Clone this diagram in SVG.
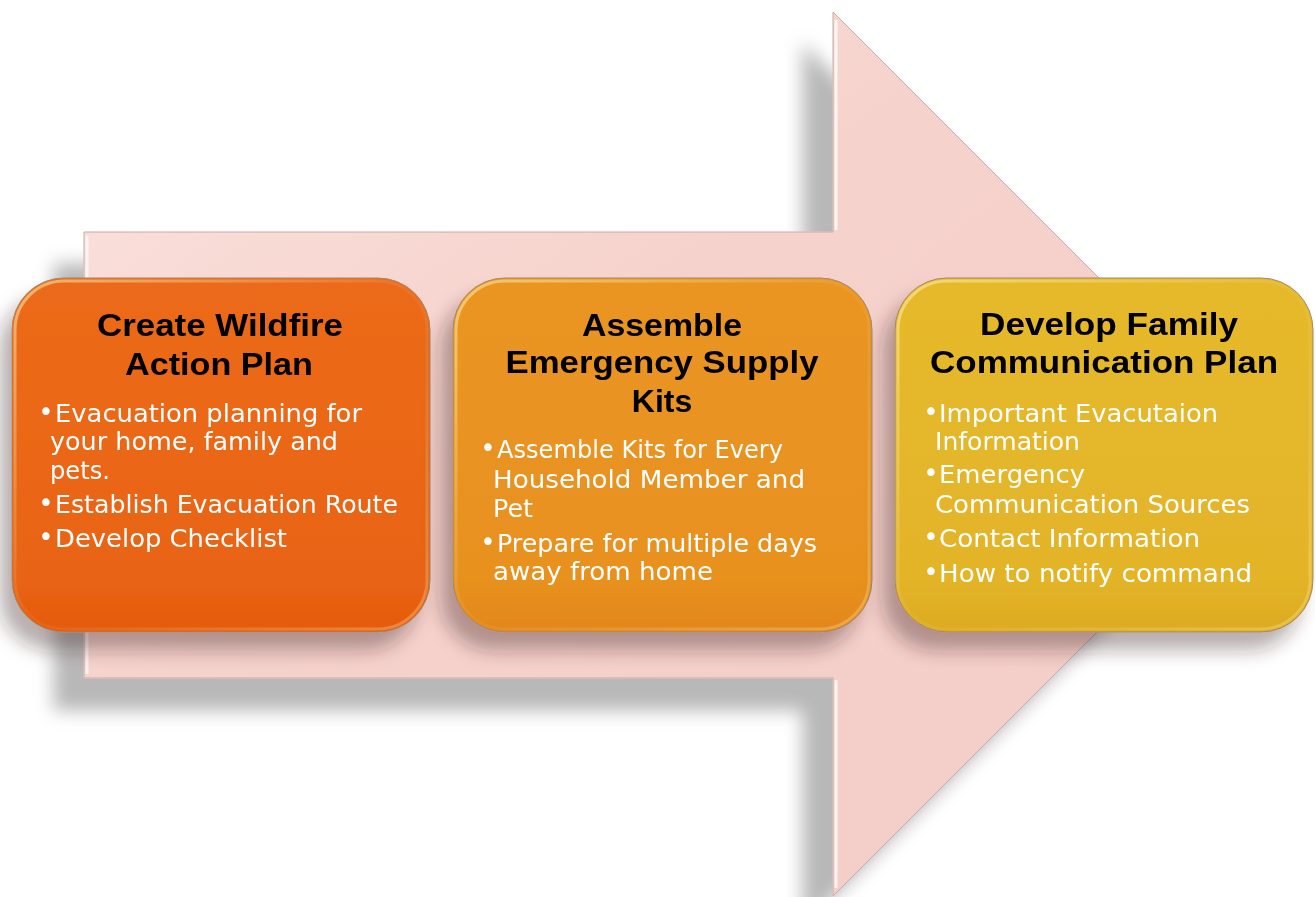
<svg xmlns="http://www.w3.org/2000/svg" width="1315" height="897" viewBox="0 0 1315 897">
  <defs>
    <filter id="arrowShadow" x="-10%" y="-10%" width="120%" height="120%">
      <feGaussianBlur in="SourceAlpha" stdDeviation="9"/>
      <feOffset dx="-30" dy="32" result="b"/>
      <feFlood flood-color="#000" flood-opacity="0.28"/>
      <feComposite in2="b" operator="in" result="s"/>
      <feMerge><feMergeNode in="s"/><feMergeNode in="SourceGraphic"/></feMerge>
    </filter>
    <filter id="boxShadow" x="-10%" y="-10%" width="120%" height="125%">
      <feGaussianBlur in="SourceAlpha" stdDeviation="9"/>
      <feOffset dx="-12" dy="18" result="b"/>
      <feFlood flood-color="#3a2020" flood-opacity="0.35"/>
      <feComposite in2="b" operator="in" result="s"/>
      <feMerge><feMergeNode in="s"/><feMergeNode in="SourceGraphic"/></feMerge>
    </filter>
    <linearGradient id="arrowFill" x1="0" y1="0" x2="1" y2="1">
      <stop offset="0" stop-color="#FBE3DF"/>
      <stop offset="0.4" stop-color="#F6D2CC"/>
      <stop offset="1" stop-color="#F3CCC6"/>
    </linearGradient>
    <linearGradient id="g1" x1="0" y1="0" x2="0" y2="1">
      <stop offset="0" stop-color="#EC6A1A"/>
      <stop offset="0.85" stop-color="#E96414"/>
      <stop offset="1" stop-color="#E55A0C"/>
    </linearGradient>
    <linearGradient id="g2" x1="0" y1="0" x2="0" y2="1">
      <stop offset="0" stop-color="#EA9524"/>
      <stop offset="0.85" stop-color="#E8911F"/>
      <stop offset="1" stop-color="#E3861A"/>
    </linearGradient>
    <linearGradient id="g3" x1="0" y1="0" x2="0" y2="1">
      <stop offset="0" stop-color="#E6B92C"/>
      <stop offset="0.85" stop-color="#E3B428"/>
      <stop offset="1" stop-color="#DDAA20"/>
    </linearGradient>
    <linearGradient id="bevel" x1="0" y1="0" x2="1" y2="1">
      <stop offset="0" stop-color="#fff2b0" stop-opacity="0.55"/>
      <stop offset="0.5" stop-color="#fff2b0" stop-opacity="0.05"/>
      <stop offset="1" stop-color="#fff2b0" stop-opacity="0.3"/>
    </linearGradient>
    <style>
      .box { stroke: #a08870; stroke-width: 1; }
      .hl { fill: none; stroke: url(#bevel); stroke-width: 3; }
      .title { font-family: "Liberation Sans", "DejaVu Sans", sans-serif; font-weight: bold; font-size: 32px; fill: #000; text-anchor: middle; }
      .body { font-family: "DejaVu Sans", "Liberation Sans", sans-serif; font-size: 24px; fill: #ffffff; }
      .bul { font-family: "DejaVu Sans", sans-serif; font-size: 26px; fill: #ffffff; text-anchor: middle; }
    </style>
  </defs>

  <g id="arrow" filter="url(#arrowShadow)">
    <path d="M84,232 H833 V12 L1275,454 L833,896 V678 H84 Z" fill="url(#arrowFill)" stroke="#c9aaa6" stroke-width="1"/>
    <path d="M87,236 V674" stroke="#ffffff" stroke-opacity="0.7" stroke-width="3"/>
    <path d="M836,20 V230 M836,680 V888" stroke="#ffffff" stroke-opacity="0.8" stroke-width="3"/>
  </g>

  <g id="node1" filter="url(#boxShadow)">
    <rect class="box" x="12" y="278" width="418" height="354" rx="52" fill="url(#g1)"/>
    <rect class="hl" x="15" y="281" width="412" height="348" rx="49"/>
    <text class="title" x="220" y="336" textLength="246" lengthAdjust="spacingAndGlyphs">Create Wildfire</text>
    <text class="title" x="219" y="375" textLength="188" lengthAdjust="spacingAndGlyphs">Action Plan</text>
    <text class="bul" x="46" y="421">•</text>
    <text class="body" x="55" y="422" textLength="307" lengthAdjust="spacingAndGlyphs">Evacuation planning for</text>
    <text class="body" x="50" y="450" textLength="288" lengthAdjust="spacingAndGlyphs">your home, family and</text>
    <text class="body" x="50" y="479" textLength="60" lengthAdjust="spacingAndGlyphs">pets.</text>
    <text class="bul" x="46" y="512">•</text>
    <text class="body" x="55" y="513" textLength="343" lengthAdjust="spacingAndGlyphs">Establish Evacuation Route</text>
    <text class="bul" x="46" y="546">•</text>
    <text class="body" x="55" y="547" textLength="232" lengthAdjust="spacingAndGlyphs">Develop Checklist</text>
  </g>

  <g id="node2" filter="url(#boxShadow)">
    <rect class="box" x="453" y="278" width="419" height="354" rx="52" fill="url(#g2)"/>
    <rect class="hl" x="456" y="281" width="413" height="348" rx="49"/>
    <text class="title" x="662" y="336" textLength="160" lengthAdjust="spacingAndGlyphs">Assemble</text>
    <text class="title" x="662" y="373" textLength="313" lengthAdjust="spacingAndGlyphs">Emergency Supply</text>
    <text class="title" x="662" y="412">Kits</text>
    <text class="bul" x="488" y="457">•</text>
    <text class="body" x="497" y="458" textLength="286" lengthAdjust="spacingAndGlyphs">Assemble Kits for Every</text>
    <text class="body" x="493" y="488" textLength="312" lengthAdjust="spacingAndGlyphs">Household Member and</text>
    <text class="body" x="493" y="517" textLength="40" lengthAdjust="spacingAndGlyphs">Pet</text>
    <text class="bul" x="488" y="551">•</text>
    <text class="body" x="497" y="552" textLength="320" lengthAdjust="spacingAndGlyphs">Prepare for multiple days</text>
    <text class="body" x="493" y="580" textLength="220" lengthAdjust="spacingAndGlyphs">away from home</text>
  </g>

  <g id="node3" filter="url(#boxShadow)">
    <rect class="box" x="895" y="278" width="418" height="354" rx="52" fill="url(#g3)"/>
    <rect class="hl" x="898" y="281" width="412" height="348" rx="49"/>
    <text class="title" x="1109" y="335" textLength="258" lengthAdjust="spacingAndGlyphs">Develop Family</text>
    <text class="title" x="1104" y="373" textLength="348" lengthAdjust="spacingAndGlyphs">Communication Plan</text>
    <text class="bul" x="931" y="421">•</text>
    <text class="body" x="939" y="422" textLength="279" lengthAdjust="spacingAndGlyphs">Important Evacutaion</text>
    <text class="body" x="935" y="450" textLength="145" lengthAdjust="spacingAndGlyphs">Information</text>
    <text class="bul" x="931" y="482">•</text>
    <text class="body" x="939" y="483" textLength="146" lengthAdjust="spacingAndGlyphs">Emergency</text>
    <text class="body" x="935" y="513" textLength="315" lengthAdjust="spacingAndGlyphs">Communication Sources</text>
    <text class="bul" x="931" y="546">•</text>
    <text class="body" x="939" y="547" textLength="261" lengthAdjust="spacingAndGlyphs">Contact Information</text>
    <text class="bul" x="931" y="581">•</text>
    <text class="body" x="939" y="582" textLength="313" lengthAdjust="spacingAndGlyphs">How to notify command</text>
  </g>
</svg>
